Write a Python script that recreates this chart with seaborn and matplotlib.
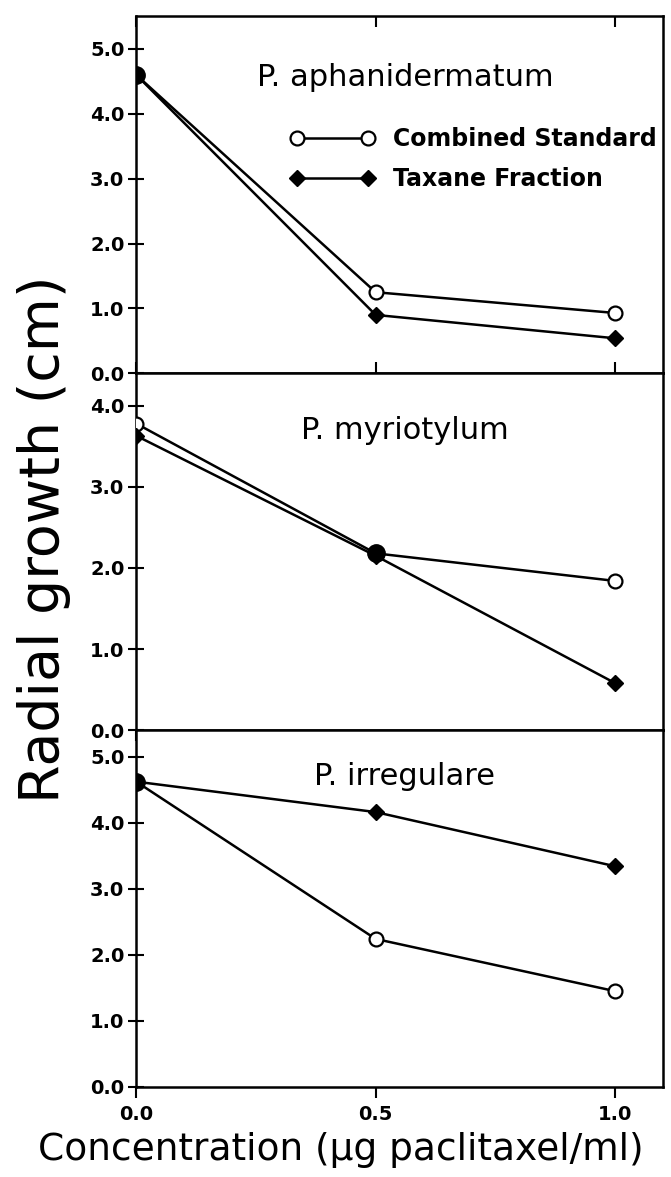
import numpy as np
import pandas as pd
import matplotlib
matplotlib.use("Agg")
import matplotlib.pyplot as plt
import seaborn as sns

# data
conc = [0.0, 0.5, 1.0]
panel_names = ["P. aphanidermatum", "P. myriotylum", "P. irregulare"]
std_aph = [4.60, 1.25, 0.93]
tax_aph = [4.60, 0.90, 0.54]
std_myr = [3.78, 2.18, 1.84]
tax_myr = [3.63, 2.15, 0.58]
std_irr = [4.62, 2.24, 1.45]
tax_irr = [4.62, 4.16, 3.34]
y_tops = [5.5, 4.4, 5.4]
y_ticks = [[0, 1, 2, 3, 4, 5], [0, 1, 2, 3, 4], [0, 1, 2, 3, 4, 5]]
x_ticks = [0.0, 0.5, 1.0]

sns.set_style("ticks")
plt.rcParams['font.family'] = ['DejaVu Sans']
plt.rcParams.update({"text.color": "black", "axes.edgecolor": "black",
                     "xtick.color": "black", "ytick.color": "black",
                     "axes.labelcolor": "black"})

fig, axes = plt.subplots(3, 1, figsize=(6.71, 11.77), dpi=100, sharex=True)
fig.subplots_adjust(left=0.203, right=0.988, top=0.986, bottom=0.0765, hspace=0)

series = [(std_aph, tax_aph), (std_myr, tax_myr), (std_irr, tax_irr)]
title_y = [0.83, 0.84, 0.87]

for i, ax in enumerate(axes):
    std, tax = series[i]
    df = pd.DataFrame({"conc": conc, "std": std, "tax": tax})

    sns.lineplot(data=df, x="conc", y="std", ax=ax, color="black", lw=1.8,
                 marker="o", markersize=10, markerfacecolor="white",
                 markeredgecolor="black", markeredgewidth=1.6,
                 label="Combined Standard", zorder=3)
    sns.lineplot(data=df, x="conc", y="tax", ax=ax, color="black", lw=1.8,
                 marker="D", markersize=8.5, markerfacecolor="black",
                 markeredgecolor="black", markeredgewidth=1,
                 label="Taxane Fraction", zorder=4)

    # where both series meet the symbols merge into one filled dot
    same = df[np.abs(df["std"] - df["tax"]) < 0.05]
    ax.plot(same["conc"], same["std"], ls="none", marker="o", markersize=12.5,
            color="black", zorder=5)

    ax.set_xlim(0, 1.1)
    ax.set_ylim(0, y_tops[i])
    ax.set_yticks(y_ticks[i])
    ax.set_yticklabels([f"{v:.1f}" for v in y_ticks[i]])
    ax.set_xticks(x_ticks)
    ax.set_xlabel("")
    ax.set_ylabel("")

    for side in ["top", "right", "left", "bottom"]:
        ax.spines[side].set_visible(True)
        ax.spines[side].set_linewidth(1.8)
        ax.spines[side].set_color("black")

    ax.tick_params(axis="y", direction="inout", length=11, width=1.5,
                   labelsize=14, pad=3, colors="black")
    ax.tick_params(axis="x", direction="out", length=8, width=1.5,
                   labelsize=14, pad=5, colors="black")
    for lab in ax.get_yticklabels() + ax.get_xticklabels():
        lab.set_fontweight("bold")

    ax.text(0.51, title_y[i], panel_names[i], transform=ax.transAxes,
            ha="center", va="center", fontsize=22, color="black")

    leg = ax.get_legend()
    if leg is not None:
        leg.remove()

# top ticks only on the top panel, pointing inward
axes[0].tick_params(axis="x", which="both", top=True, direction="in")
for ax in axes[:2]:
    ax.tick_params(axis="x", labelbottom=False)
axes[0].tick_params(axis="x", bottom=True)

handles, labels = axes[0].get_legend_handles_labels()
axes[0].legend(handles, labels, loc="center left", bbox_to_anchor=(0.292, 0.60),
               frameon=False, numpoints=2, handlelength=3.6, handletextpad=0.76,
               labelspacing=0.7, borderpad=0, borderaxespad=0,
               prop={"size": 17, "weight": "bold"})

fig.text(0.066, 0.542, "Radial growth (cm)", rotation=90, ha="center",
         va="center", fontsize=40, color="black")
fig.text(0.508, 0.023, "Concentration (\u03bcg paclitaxel/ml)", ha="center",
         va="center", fontsize=27, color="black")

fig.savefig("out.png", dpi=100)
